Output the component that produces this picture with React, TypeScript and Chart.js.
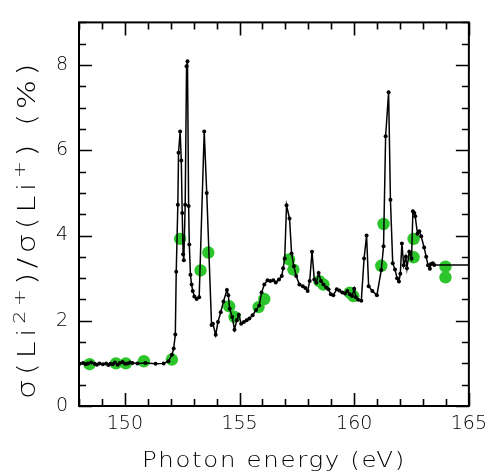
import React, { useEffect, useRef } from "react";
import { Chart, registerables } from "chart.js";

Chart.register(...registerables);

// Black measured series: photon energy (eV) and ratio (%)
const energy = [
  148.03, 148.18, 148.29, 148.39, 148.53, 148.68, 148.78, 148.89, 149.04, 149.18,
  149.28, 149.37, 149.47, 149.57, 149.69, 149.78, 149.9, 150.01, 150.12, 150.22,
  150.33, 150.55, 150.9, 151.34, 151.69, 151.9, 152.05, 152.13, 152.2, 152.24,
  152.31, 152.34, 152.41, 152.46, 152.5, 152.54, 152.57, 152.63, 152.69, 152.73,
  152.78, 152.81, 152.86, 152.91, 152.96, 153.03, 153.13, 153.24, 153.46, 153.57,
  153.78, 153.84, 153.96, 154.06, 154.18, 154.3, 154.45, 154.51, 154.57, 154.68,
  154.78, 154.88, 154.97, 155.07, 155.19, 155.31, 155.43, 155.57, 155.72, 155.86,
  155.96, 156.08, 156.22, 156.34, 156.47, 156.58, 156.72, 156.84, 156.9, 156.97,
  157.05, 157.18, 157.27, 157.37, 157.47, 157.61, 157.76, 157.87, 157.97, 158.06,
  158.16, 158.26, 158.35, 158.45, 158.55, 158.66, 158.78, 158.88, 158.98, 159.09,
  159.24, 159.35, 159.48, 159.6, 159.7, 159.81, 159.91, 160.0, 160.07, 160.17,
  160.31, 160.43, 160.54, 160.63, 160.79, 160.99, 161.18, 161.28, 161.37, 161.5,
  161.58, 161.68, 161.78, 161.87, 161.95, 162.01, 162.08, 162.16, 162.25, 162.3,
  162.4, 162.5, 162.56, 162.62, 162.66, 162.76, 162.84, 162.92, 163.05, 163.14,
  163.22, 163.3, 163.35, 163.43, 163.49, 165.0,
];
const ratio = [
  0.99, 1.01, 0.98, 1.0, 1.02, 0.99, 0.97, 1.0, 0.98, 1.0,
  0.96, 0.99, 0.98, 1.02, 0.97, 1.01, 1.03, 0.99, 1.0, 1.02,
  1.01, 1.0, 1.01, 0.99, 1.0, 1.05, 1.2, 1.35, 1.68, 3.15,
  4.72, 5.94, 6.44, 5.76, 4.53, 3.56, 3.42, 4.72, 7.97, 8.09,
  4.69, 3.79, 3.08, 2.85, 2.7, 2.57, 2.51, 2.55, 6.44, 5.0,
  1.9, 1.93, 1.67, 1.97, 2.2, 2.45, 2.72, 2.6, 2.28, 2.09,
  1.79, 2.01, 2.14, 1.93, 1.97, 2.01, 2.05, 2.13, 2.25, 2.36,
  2.66, 2.85, 2.95, 2.93, 2.95, 2.9, 2.97, 3.05, 3.23, 3.46,
  4.71, 4.4, 3.58, 3.28, 3.05, 2.85, 2.81, 2.77, 2.7, 2.93,
  3.62, 2.97, 2.89, 3.12, 2.93, 2.85, 2.78, 2.74, 2.62, 2.6,
  2.74, 2.71, 2.66, 2.64, 2.7, 2.62, 2.58, 2.75, 2.55, 2.49,
  2.47, 3.46, 4.0, 2.81, 2.7, 2.6, 3.19, 3.75, 6.33, 7.36,
  4.84, 3.35, 3.2, 3.0, 2.92, 3.1, 3.81, 3.3, 3.5, 3.23,
  3.62, 3.46, 4.57, 4.53, 4.45, 4.04, 4.1, 3.98, 3.72, 3.5,
  3.3, 3.22, 3.33, 3.35, 3.31, 3.31,
];

// Green comparison points
const greenEnergy = [
  148.46, 149.61, 150.04, 150.83, 152.05, 152.41, 153.3, 153.64, 154.55, 154.78,
  155.83, 156.08, 157.16, 157.35, 158.48, 158.66, 159.81, 159.96, 161.18, 161.28,
  162.59, 162.59, 163.98, 163.98,
];
const greenRatio = [
  0.98, 1.0, 1.0, 1.05, 1.09, 3.92, 3.18, 3.6, 2.34, 2.09,
  2.32, 2.51, 3.44, 3.2, 2.93, 2.85, 2.66, 2.58, 3.29, 4.27,
  3.92, 3.49, 3.27, 3.02,
];

const xMajorTicks = [150, 155, 160, 165];
const yMajorTicks = [0, 2, 4, 6, 8];
const xTitle = "Photon energy (eV)";
const yTitleParts = [
  { text: "σ(Li", sup: false },
  { text: "2+", sup: true },
  { text: ")/σ(Li", sup: false },
  { text: "+", sup: true },
  { text: ") (%)", sup: false },
];

const FONT_FAMILY = '"DejaVu Sans", sans-serif';

const framePlugin = {
  id: "frameTicks",
  afterDatasetsDraw(chart: any) {
    const { ctx, chartArea } = chart;
    const xs = chart.scales.x;
    const ys = chart.scales.y;
    const { left, right, top, bottom } = chartArea;
    ctx.save();
    ctx.strokeStyle = "#000";
    ctx.lineWidth = 1.6;
    ctx.lineCap = "butt";
    ctx.beginPath();
    for (let v = Math.ceil(xs.min); v <= xs.max; v += 1) {
      const px = Math.round(xs.getPixelForValue(v)) + 0.5;
      const len = v % 5 === 0 ? 13 : 7;
      ctx.moveTo(px, bottom);
      ctx.lineTo(px, bottom - len);
      ctx.moveTo(px, top);
      ctx.lineTo(px, top + len);
    }
    for (let v = ys.min; v <= ys.max + 1e-9; v += 0.5) {
      const py = Math.round(ys.getPixelForValue(v)) + 0.5;
      const len = Math.abs(v % 2) < 1e-9 ? 13 : 7;
      ctx.moveTo(left, py);
      ctx.lineTo(left + len, py);
      ctx.moveTo(right, py);
      ctx.lineTo(right - len, py);
    }
    ctx.stroke();
    ctx.lineWidth = 2;
    ctx.strokeRect(left, top, right - left, bottom - top);

    // x title
    ctx.fillStyle = "#000";
    ctx.font = `300 22px ${FONT_FAMILY}`;
    ctx.textBaseline = "alphabetic";
    ctx.textAlign = "left";
    const xs1 = 1.5;
    (ctx as any).letterSpacing = "0px";
    const natural = ctx.measureText(xTitle).width + xs1 * xTitle.length;
    const targetX = 264;
    const sx = targetX / natural;
    ctx.save();
    ctx.translate((left + right) / 2 - targetX / 2, 467);
    ctx.scale(sx, 1);
    (ctx as any).letterSpacing = xs1 + "px";
    ctx.fillText(xTitle, 0, 0);
    ctx.restore();

    // y title
    const ySpacing = 3.5;
    const mainFont = `300 24px ${FONT_FAMILY}`;
    const supFont = `300 16px ${FONT_FAMILY}`;
    (ctx as any).letterSpacing = "0px";
    let total = 0;
    const widths = yTitleParts.map((p) => {
      ctx.font = p.sup ? supFont : mainFont;
      const w = ctx.measureText(p.text).width + ySpacing * p.text.length;
      total += w;
      return w;
    });
    const targetY = 340;
    const sy = targetY / total;
    ctx.save();
    ctx.translate(35, 399);
    ctx.rotate(-Math.PI / 2);
    ctx.scale(sy, 1);
    (ctx as any).letterSpacing = ySpacing + "px";
    let cursor = 0;
    yTitleParts.forEach((p, i) => {
      ctx.font = p.sup ? supFont : mainFont;
      ctx.fillText(p.text, cursor, p.sup ? -10 : 0);
      cursor += widths[i];
    });
    ctx.restore();
    ctx.restore();
  },
};

export default function App() {
  const canvasRef = useRef<HTMLCanvasElement | null>(null);

  useEffect(() => {
    const canvas = canvasRef.current;
    if (!canvas) return;
    const lastIndex = energy.length - 1;
    const chart = new Chart(canvas, {
      type: "scatter",
      data: {
        datasets: [
          {
            label: "measured",
            data: energy.map((e, i) => ({ x: e, y: ratio[i] })),
            showLine: true,
            borderColor: "#000",
            backgroundColor: "#000",
            borderWidth: 1.5,
            pointRadius: (c: any) => (c.dataIndex === lastIndex ? 0 : 2),
            pointBorderWidth: 0,
            order: 0,
          } as any,
          {
            label: "comparison",
            data: greenEnergy.map((e, i) => ({ x: e, y: greenRatio[i] })),
            showLine: false,
            backgroundColor: "#2cc52c",
            borderColor: "#2cc52c",
            pointRadius: 6.2,
            pointBorderWidth: 0,
            order: 1,
          } as any,
        ],
      },
      options: {
        animation: false,
        responsive: false,
        events: [],
        layout: { padding: { top: 13, right: 22, left: 0, bottom: 0 } },
        plugins: { legend: { display: false }, tooltip: { enabled: false } },
        scales: {
          x: {
            type: "linear",
            min: 148,
            max: 165,
            grid: { display: false, drawTicks: false },
            border: { display: false },
            afterBuildTicks: (s: any) => {
              s.ticks = xMajorTicks.map((v) => ({ value: v }));
            },
            afterFit: (s: any) => {
              s.height = 69;
            },
            ticks: {
              padding: 7,
              color: "#000",
              maxRotation: 0,
              autoSkip: false,
              font: { family: FONT_FAMILY, size: 19, weight: "300" as any },
              callback: (v: any) => String(v),
            },
          },
          y: {
            type: "linear",
            min: 0,
            max: 9,
            grid: { display: false, drawTicks: false },
            border: { display: false },
            afterBuildTicks: (s: any) => {
              s.ticks = yMajorTicks.map((v) => ({ value: v }));
            },
            afterFit: (s: any) => {
              s.width = 79;
            },
            ticks: {
              padding: 11,
              color: "#000",
              autoSkip: false,
              font: { family: FONT_FAMILY, size: 19, weight: "300" as any },
              callback: (v: any) => String(v),
            },
          },
        },
      },
      plugins: [framePlugin],
    });
    return () => chart.destroy();
  }, []);

  return (
    <div style={{ position: "fixed", left: 0, top: 0, width: 494, height: 475, background: "#fff" }}>
      <canvas ref={canvasRef} width={494} height={475} style={{ display: "block" }} />
    </div>
  );
}
